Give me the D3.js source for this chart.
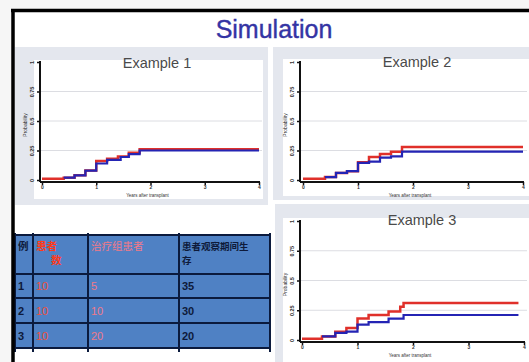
<!DOCTYPE html>
<html>
<head>
<meta charset="utf-8">
<script src="https://cdn.jsdelivr.net/npm/d3@7"></script>
<style>
  html, body { margin: 0; padding: 0; background: #f7f7f7; }
  svg { display: block; }
</style>
</head>
<body>
<svg id="chart" width="529" height="362"></svg>
<script>
// ---- data ----
const mainTitle = "Simulation";
const panelTitles = ["Example 1", "Example 2", "Example 3"];
const xTicks = [0, 1, 2, 3, 4];
const yTicks = [0, 0.25, 0.5, 0.75, 1];
const xAxisTitle = "Years after transplant";
const yAxisTitle = "Probability";

// cumulative incidence steps: [time, value]
const ex1Red  = [[0, 0.01], [0.4, 0.02], [0.6, 0.04], [0.8, 0.08], [1.0, 0.16], [1.2, 0.18], [1.4, 0.20], [1.6, 0.23], [1.8, 0.26], [4.0, 0.26]];
const ex1Blue = [[0.4, 0.02], [0.6, 0.04], [0.8, 0.08], [1.0, 0.14], [1.2, 0.17], [1.45, 0.195], [1.6, 0.22], [1.8, 0.25], [4.0, 0.25]];
const ex2Red  = [[0, 0.01], [0.4, 0.025], [0.6, 0.06], [0.8, 0.075], [1.0, 0.15], [1.2, 0.195], [1.4, 0.22], [1.6, 0.24], [1.8, 0.28], [4.0, 0.28]];
const ex2Blue = [[0.4, 0.025], [0.6, 0.06], [0.8, 0.075], [1.0, 0.145], [1.2, 0.155], [1.4, 0.19], [1.6, 0.20], [1.8, 0.24], [4.0, 0.24]];
const ex3Red  = [[0, 0.01], [0.36, 0.03], [0.6, 0.07], [0.8, 0.10], [1.0, 0.18], [1.2, 0.21], [1.56, 0.24], [1.77, 0.28], [1.83, 0.31], [3.9, 0.31]];
const ex3Blue = [[0.36, 0.03], [0.6, 0.06], [0.8, 0.07], [1.0, 0.13], [1.2, 0.15], [1.56, 0.18], [1.83, 0.21], [3.9, 0.21]];

const tableHeader = [["例"], ["患者", "数"], ["治疗组患者"], ["患者观察期间生", "存"]];
const tableRows = [
  ["1", "10", "5", "35"],
  ["2", "10", "10", "30"],
  ["3", "10", "20", "20"]
];

// ---- layout ----
const svg = d3.select("#chart");
const W = 529, H = 362;
const RED = "#e0302a", BLUE = "#2424b4";
const SANS = "Liberation Sans, Arial, sans-serif";

svg.append("rect").attr("width", W).attr("height", H).attr("fill", "#f6f6f6");
svg.append("rect").attr("x", 13).attr("y", 10).attr("width", W - 13).attr("height", H - 10).attr("fill", "#ffffff");

const panels = [
  { title: panelTitles[0], red: ex1Red, blue: ex1Blue,
    bg: [15, 47, 253, 158], plot: [34, 60, 229, 139],
    xr: [42, 259], yr: [180, 62], axX: 40, axY: 182, gridEnd: 262, tx: 157, ty: 68 },
  { title: panelTitles[1], red: ex2Red, blue: ex2Blue,
    bg: [273, 47, 256, 153], plot: [283, 59, 246, 137],
    xr: [303, 523], yr: [180, 62], axX: 300, axY: 182, gridEnd: 527, tx: 417, ty: 67 },
  { title: panelTitles[2], red: ex3Red, blue: ex3Blue,
    bg: [275, 204, 254, 158], plot: [283, 218, 246, 144],
    xr: [302, 524], yr: [340, 221], axX: 300, axY: 342, gridEnd: 527, tx: 422, ty: 225 }
];

panels.forEach(p => {
  const g = svg.append("g");
  g.append("rect").attr("x", p.bg[0]).attr("y", p.bg[1]).attr("width", p.bg[2]).attr("height", p.bg[3]).attr("fill", "#e4e7ee");
  g.append("rect").attr("x", p.plot[0]).attr("y", p.plot[1]).attr("width", p.plot[2]).attr("height", p.plot[3]).attr("fill", "#ffffff");

  const x = d3.scaleLinear().domain([0, 4]).range(p.xr);
  const y = d3.scaleLinear().domain([0, 1]).range(p.yr);

  // horizontal grid
  g.selectAll("line.grid").data(yTicks.slice(1, 4)).join("line")
    .attr("x1", p.axX).attr("x2", p.gridEnd)
    .attr("y1", d => y(d)).attr("y2", d => y(d))
    .attr("stroke", "#dcdde2").attr("stroke-width", 1);

  // y axis
  const yAxis = d3.axisLeft(y).tickValues(yTicks).tickSize(3).tickFormat(d3.format("~g"));
  const ga = g.append("g").attr("transform", `translate(${p.axX},0)`).call(yAxis);
  ga.select(".domain").attr("stroke", "#111").attr("stroke-width", 2)
    .attr("d", `M0,${y(1) - 1}V${p.axY}`);
  ga.selectAll(".tick line").attr("stroke", "#111").attr("stroke-width", 1.5);
  ga.selectAll(".tick text")
    .attr("font-family", SANS).attr("font-size", 5.5).attr("font-weight", "bold").attr("fill", "#333")
    .attr("x", 0).attr("dy", 0)
    .attr("text-anchor", "middle")
    .attr("transform", "translate(-6,0) rotate(-90)");

  // x axis
  const xAxis = d3.axisBottom(x).tickValues(xTicks).tickSize(3).tickFormat(d3.format("d"));
  const gx = g.append("g").attr("transform", `translate(0,${p.axY})`).call(xAxis);
  gx.select(".domain").attr("stroke", "#111").attr("stroke-width", 2)
    .attr("d", `M${p.axX},0H${p.xr[1] + 1}`);
  gx.selectAll(".tick line").attr("stroke", "#111").attr("stroke-width", 1.5);
  gx.selectAll(".tick text")
    .attr("font-family", SANS).attr("font-size", 5).attr("font-weight", "bold").attr("fill", "#333")
    .attr("y", 3.5).attr("dy", "0.71em");

  // axis titles
  g.append("text").attr("x", (p.xr[0] + p.xr[1]) / 2 - 3).attr("y", p.axY + 15)
    .attr("text-anchor", "middle").attr("font-family", SANS)
    .attr("font-size", 4.5).attr("fill", "#333").text(xAxisTitle);
  g.append("text")
    .attr("transform", `translate(${p.axX - 13},${(p.yr[0] + p.yr[1]) / 2 + 4}) rotate(-90)`)
    .attr("text-anchor", "middle").attr("font-family", SANS)
    .attr("font-size", 5).attr("fill", "#333").text(yAxisTitle);

  // panel title
  g.append("text").attr("x", p.tx).attr("y", p.ty).attr("text-anchor", "middle")
    .attr("font-family", SANS).attr("font-size", 14.5)
    .attr("fill", "#4a4a4a").text(p.title);

  // step curves
  const line = d3.line().x(d => x(d[0])).y(d => y(d[1])).curve(d3.curveStepAfter);
  g.append("path").datum(p.red).attr("d", line).attr("fill", "none")
    .attr("stroke", RED).attr("stroke-width", 2.5);
  g.append("path").datum(p.blue).attr("d", line).attr("fill", "none")
    .attr("stroke", BLUE).attr("stroke-width", 2.2);
});

// ---- table ----
const colX = [15, 33, 88, 179, 270];
const rowY = [235, 274, 298, 323, 348];
const tg = svg.append("g");
tg.append("rect").attr("x", colX[0]).attr("y", rowY[0]).attr("width", colX[4] - colX[0]).attr("height", rowY[4] - rowY[0])
  .attr("fill", "#4f81c4");
tg.selectAll("line.h").data(rowY).join("line")
  .attr("x1", colX[0]).attr("x2", colX[4]).attr("y1", d => d).attr("y2", d => d)
  .attr("stroke", "#0b1a3d").attr("stroke-width", 2);
tg.selectAll("line.v").data(colX).join("line")
  .attr("x1", d => d).attr("x2", d => d).attr("y1", rowY[0] - 2).attr("y2", rowY[4] + 4)
  .attr("stroke", "#0b1a3d").attr("stroke-width", 2);

const cjk = "'Noto Sans CJK SC', sans-serif";
const headColors = ["#0e1a3a", "#ff3a1a", "#f07a8a", "#0e1a3a"];
const headWeights = ["bold", "bold", "normal", "bold"];
tableHeader.forEach((lines, i) => {
  lines.forEach((t, j) => {
    tg.append("text")
      .attr("x", colX[i] + 3 + (i === 1 && j === 1 ? 15 : 0))
      .attr("y", 250 + j * 14)
      .attr("font-family", cjk).attr("font-weight", headWeights[i])
      .attr("font-size", i === 3 ? 9.5 : 10.5)
      .attr("fill", headColors[i]).text(t);
  });
});
const cellColors = ["#0e1a3a", "#f0503a", "#f07a8a", "#0e1a3a"];
tableRows.forEach((row, r) => {
  row.forEach((t, c) => {
    tg.append("text")
      .attr("x", colX[c] + 3)
      .attr("y", (rowY[r + 1] + rowY[r + 2]) / 2 + 4)
      .attr("font-family", SANS)
      .attr("font-weight", c === 0 || c === 3 ? "bold" : "normal")
      .attr("font-size", 11).attr("fill", cellColors[c]).text(t);
  });
});

// ---- frame and title ----
svg.append("line").attr("x1", 11).attr("x2", W).attr("y1", 10.5).attr("y2", 10.5)
  .attr("stroke", "#000").attr("stroke-width", 3.5);
svg.append("line").attr("x1", 13).attr("x2", 13).attr("y1", 9).attr("y2", H)
  .attr("stroke", "#000").attr("stroke-width", 3.5);

svg.append("text").attr("x", 274).attr("y", 38).attr("text-anchor", "middle")
  .attr("font-family", SANS).attr("font-size", 25)
  .attr("stroke", "#3434a4").attr("stroke-width", 0.4)
  .attr("fill", "#3434a4").text(mainTitle);
</script>
</body>
</html>
